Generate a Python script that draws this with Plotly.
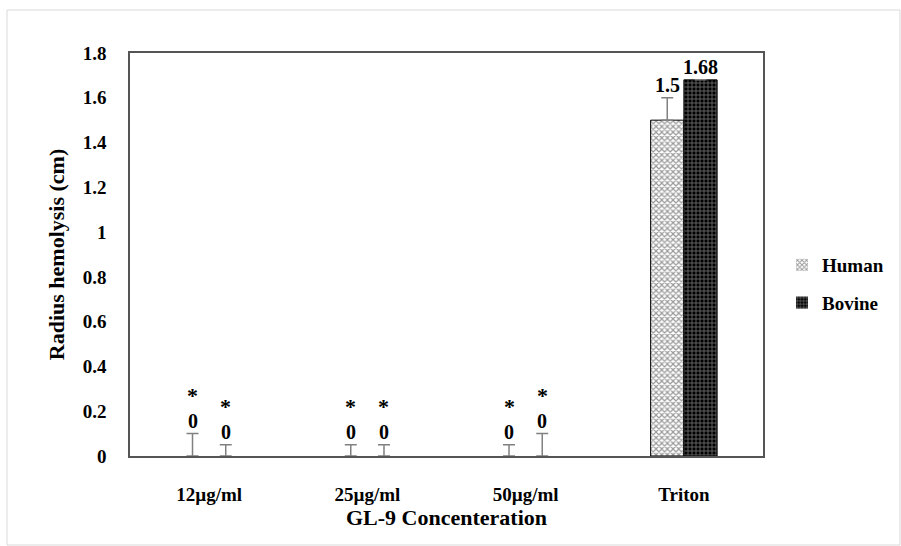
import plotly.graph_objects as go

categories = ["12µg/ml", "25µg/ml", "50µg/ml", "Triton"]
human = [0, 0, 0, 1.5]
bovine = [0, 0, 0, 1.68]
human_err = [0.1, 0.05, 0.05, 0.1]
bovine_err = [0.05, 0.05, 0.1, 0.0]
human_labels = ["0", "0", "0", "1.5"]
bovine_labels = ["0", "0", "0", "1.68"]
stars = [True, True, True, False]
y_ticks = [0, 0.2, 0.4, 0.6, 0.8, 1, 1.2, 1.4, 1.6, 1.8]

FONT = "Liberation Serif"
W, H = 901, 546
L, R, T, B = 130, 138, 53, 90
pw, ph = W - L - R, H - T - B
bargap = 0.58
cat_px = pw / len(categories)
off = (1 - bargap) / 4 * cat_px

def line_widths(vals):
    return [1 if v > 0 else 0 for v in vals]

fig = go.Figure()
fig.add_trace(go.Bar(
    name="Human", x=categories, y=human,
    marker=dict(color="white", line=dict(color="black", width=line_widths(human)),
                pattern=dict(shape="x", fgcolor="#333333", bgcolor="white", size=4, solidity=0.5)),
    error_y=dict(type="data", symmetric=False, array=human_err, arrayminus=[0]*4,
                 color="#808080", thickness=1.5, width=6),
    legendgroup="h",
))
fig.add_trace(go.Bar(
    name="Bovine", x=categories, y=bovine,
    marker=dict(color="black", line=dict(color="black", width=line_widths(bovine)),
                pattern=dict(shape="+", fgcolor="#d0d0d0", bgcolor="black", size=4, solidity=0.4)),
    error_y=dict(type="data", symmetric=False, array=bovine_err, arrayminus=[0]*4,
                 color="#808080", thickness=1.5, width=6),
    legendgroup="b",
))

annotations = []
for i, c in enumerate(categories):
    for vals, errs, labs, sh in ((human, human_err, human_labels, -off),
                                 (bovine, bovine_err, bovine_labels, off)):
        top = vals[i] + errs[i]
        annotations.append(dict(x=c, y=top, xref="x", yref="y", text=labs[i],
                                showarrow=False, yanchor="bottom", xshift=sh, yshift=0,
                                font=dict(family=FONT, size=20, color="black", weight="bold")))
        if stars[i]:
            annotations.append(dict(x=c, y=top, xref="x", yref="y", text="*",
                                    showarrow=False, yanchor="bottom", xshift=sh, yshift=24,
                                    font=dict(family=FONT, size=22, color="black", weight="bold")))

fig.update_layout(
    width=W, height=H,
    margin=dict(l=L, r=R, t=T, b=B, autoexpand=False),
    paper_bgcolor="white", plot_bgcolor="white",
    barmode="group", bargap=bargap, bargroupgap=0,
    font=dict(family=FONT, size=19, color="black"),
    showlegend=True,
    legend=dict(x=(782 - L) / pw, xanchor="left", y=(456 - 284) / ph, yanchor="middle",
                font=dict(family=FONT, size=19, color="black", weight="bold"),
                tracegroupgap=10, traceorder="grouped", bgcolor="rgba(0,0,0,0)"),
    annotations=annotations,
    shapes=[dict(type="rect", xref="paper", yref="paper",
                 x0=(7 - L) / pw, x1=(900 - L) / pw,
                 y0=(H - B - 545) / ph, y1=(H - B - 10) / ph,
                 line=dict(color="#d9d9d9", width=1), layer="below")],
)
fig.update_xaxes(
    showline=True, linecolor="#555555", linewidth=1.5, mirror=True,
    showgrid=False, ticks="", ticklabelstandoff=20,
    tickfont=dict(family=FONT, size=19, color="black", weight="bold"),
    title=dict(text="GL-9 Concenteration", standoff=6,
               font=dict(family=FONT, size=22, color="black", weight="bold")),
)
fig.update_yaxes(
    range=[0, 1.8], tickvals=y_ticks, ticktext=[f"{v:g}" for v in y_ticks],
    showline=True, linecolor="#555555", linewidth=1.5, mirror=True,
    showgrid=False, zeroline=False, ticks="", ticklabelstandoff=18,
    tickfont=dict(family=FONT, size=19, color="black", weight="bold"),
    title=dict(text="Radius hemolysis (cm)", standoff=12,
               font=dict(family=FONT, size=22, color="black", weight="bold")),
)
fig.write_html("out.html")
